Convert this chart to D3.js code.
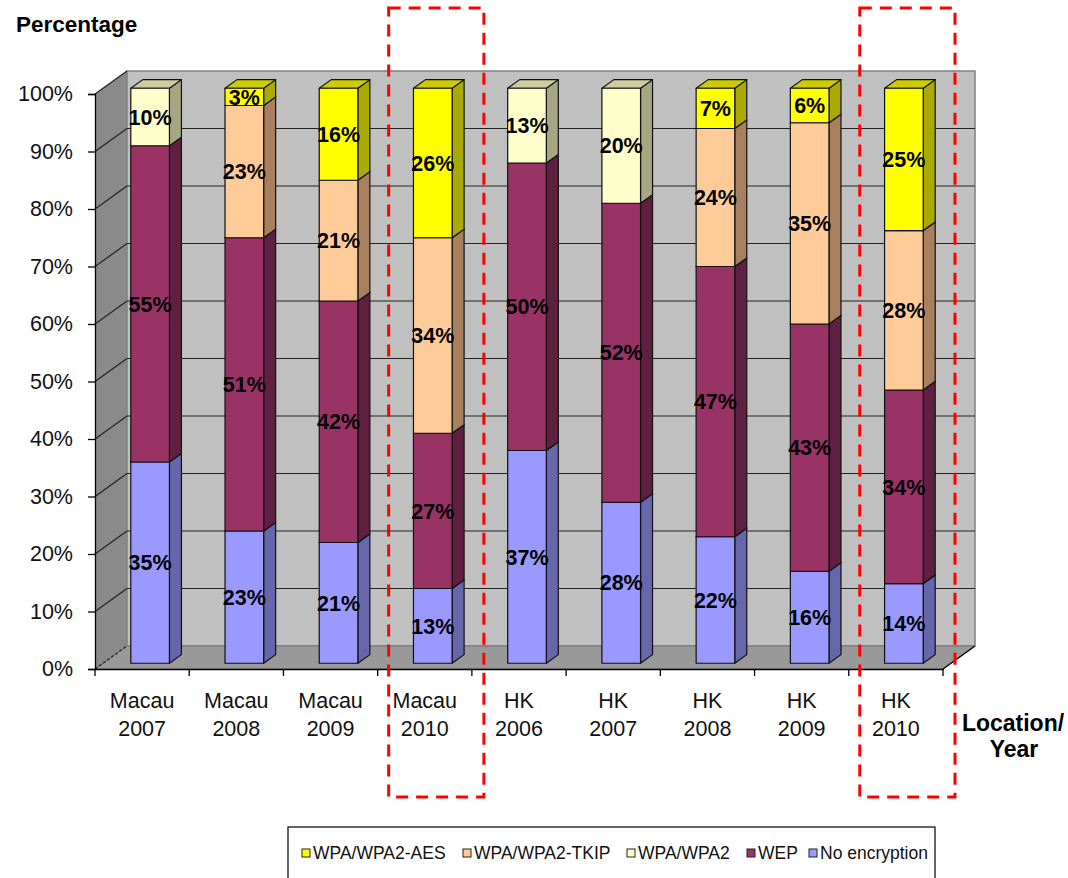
<!DOCTYPE html>
<html>
<head>
<meta charset="utf-8">
<script src="https://cdn.jsdelivr.net/npm/d3@7/dist/d3.min.js"></script>
<style>
  body { margin: 0; background: #fff; }
  svg { font-family: Arial, "Liberation Sans", sans-serif; }
</style>
</head>
<body>
<script>
// categories (location / year)
const categories = ['Macau 2007', 'Macau 2008', 'Macau 2009', 'Macau 2010', 'HK 2006', 'HK 2007', 'HK 2008', 'HK 2009', 'HK 2010'];
// series, bottom to top of the stack
const seriesNames = ['No encryption', 'WEP', 'WPA/WPA2', 'WPA/WPA2-TKIP', 'WPA/WPA2-AES'];
const noEncryption = [35, 23, 21, 13, 37, 28, 22, 16, 14];
const wep = [55, 51, 42, 27, 50, 52, 47, 43, 34];
const wpa = [10, 0, 0, 0, 13, 20, 0, 0, 0];
const wpaTkip = [0, 23, 21, 34, 0, 0, 24, 35, 28];
const wpaAes = [0, 3, 16, 26, 0, 0, 7, 6, 25];
const yTicks = [0, 10, 20, 30, 40, 50, 60, 70, 80, 90, 100];
const legendOrder = ['WPA/WPA2-AES', 'WPA/WPA2-TKIP', 'WPA/WPA2', 'WEP', 'No encryption'];
const highlighted = ['Macau 2010', 'HK 2010'];

const seriesValues = [noEncryption, wep, wpa, wpaTkip, wpaAes];
const rows = categories.map((c, i) => {
  const r = { cat: c };
  seriesNames.forEach((s, j) => { r[s] = seriesValues[j][i]; });
  return r;
});

const colors = {
  'No encryption': { front: '#9999ff', side: '#6666aa', top: '#7a7acc' },
  'WEP': { front: '#993366', side: '#5e1f40', top: '#7a2952' },
  'WPA/WPA2': { front: '#ffffcc', side: '#a6a682', top: '#cccc9f' },
  'WPA/WPA2-TKIP': { front: '#ffcc99', side: '#a88060', top: '#cca37a' },
  'WPA/WPA2-AES': { front: '#ffff00', side: '#aaaa00', top: '#cccc00' }
};

const W = 1068, H = 878;
const x0 = 95, x1 = 943, yBottom = 669, yTop = 94;
const DX = 32, DY = 23;          // full depth of the plot box
const d0 = 0.25, d1 = 0.625;     // bar depth (front / back)

const svg = d3.select('body').append('svg').attr('width', W).attr('height', H);

const x = d3.scaleBand().domain(categories).range([x0, x1]).padding(0);
const y = d3.scaleLinear().domain([0, 1]).range([yBottom, yTop]);
const yPct = d3.scaleLinear().domain([0, 100]).range([yBottom, yTop]);

// walls
svg.append('polygon')
  .attr('points', [[x0, yTop], [x0 + DX, yTop - DY], [x0 + DX, yBottom - DY], [x0, yBottom]].join(' '))
  .attr('fill', '#8a8a8a');
svg.append('rect')
  .attr('x', x0 + DX).attr('y', yTop - DY)
  .attr('width', x1 - x0).attr('height', yBottom - yTop)
  .attr('fill', '#c0c0c0').attr('stroke', '#808080').attr('stroke-width', 1.5);
svg.append('polygon')
  .attr('points', [[x0, yBottom], [x0 + DX, yBottom - DY], [x1 + DX, yBottom - DY], [x1, yBottom]].join(' '))
  .attr('fill', '#999999').attr('stroke', '#777').attr('stroke-width', 1);

// gridlines on back and left walls
const grid = svg.append('g').attr('stroke', '#222').attr('stroke-width', 1.2);
yTicks.forEach(t => {
  const yy = yPct(t);
  if (t > 0 && t < 100) {
    grid.append('line')
      .attr('x1', x0 + DX).attr('x2', x1 + DX)
      .attr('y1', yy - DY).attr('y2', yy - DY);
  }
  grid.append('line')
    .attr('x1', x0).attr('y1', yy)
    .attr('x2', x0 + DX).attr('y2', yy - DY)
    .attr('stroke-dasharray', t === 0 ? '3,2' : null);
});

// axes
const yAxis = svg.append('g')
  .attr('transform', `translate(${x0},0)`)
  .call(d3.axisLeft(yPct).tickValues(yTicks).tickSize(7).tickFormat(d => d + '%'));
yAxis.select('.domain').attr('stroke', '#000').attr('stroke-width', 1.3);
yAxis.selectAll('.tick line').attr('stroke', '#000').attr('stroke-width', 1.3);
yAxis.selectAll('.tick text')
  .attr('x', -22)
  .style('font-family', 'Arial, "Liberation Sans", sans-serif')
  .style('font-size', '21.5px').attr('fill', '#111');

const xAxis = svg.append('g')
  .attr('transform', `translate(0,${yBottom})`)
  .call(d3.axisBottom(x).tickSize(0).tickFormat(''));
xAxis.select('.domain').attr('stroke', '#000').attr('stroke-width', 1.3);
xAxis.selectAll('.tick').remove();
const bounds = categories.map(c => x(c)).concat([x1]);
bounds.forEach(b => {
  svg.append('line').attr('x1', b).attr('x2', b)
    .attr('y1', yBottom).attr('y2', yBottom + 7)
    .attr('stroke', '#000').attr('stroke-width', 1.3);
});
svg.append('line')
  .attr('x1', x1).attr('y1', yBottom).attr('x2', x1 + DX).attr('y2', yBottom - DY)
  .attr('stroke', '#000').attr('stroke-width', 1.3);

const catLabels = svg.append('g')
  .selectAll('text').data(categories).enter().append('text')
  .attr('text-anchor', 'middle')
  .attr('font-size', 21.5).attr('fill', '#111')
  .attr('x', d => x(d) + x.bandwidth() / 2);
catLabels.append('tspan').attr('x', d => x(d) + x.bandwidth() / 2).attr('y', 708).text(d => d.split(' ')[0]);
catLabels.append('tspan').attr('x', d => x(d) + x.bandwidth() / 2).attr('y', 736).text(d => d.split(' ')[1]);

// stacked 3D bars (100% stacked)
const stack = d3.stack().keys(seriesNames).offset(d3.stackOffsetExpand);
const stacked = stack(rows);
const barW = x.bandwidth() * 0.41;
const fx = DX * d0, fy = DY * d0;
const bx = DX * (d1 - d0), by = DY * (d1 - d0);

const bars = svg.append('g');
const labels = svg.append('g');
categories.forEach((cat, i) => {
  const left = x(cat) + x.bandwidth() / 2 - barW / 2 + fx;
  const right = left + barW;
  stacked.forEach(layer => {
    const seg = layer[i];
    if (seg[1] - seg[0] <= 0) return;
    const c = colors[layer.key];
    const yb = y(seg[0]) - fy, yt = y(seg[1]) - fy;
    const g = bars.append('g').attr('stroke', '#111').attr('stroke-width', 1.2).attr('stroke-linejoin', 'round');
    g.append('polygon')
      .attr('points', [[right, yt], [right + bx, yt - by], [right + bx, yb - by], [right, yb]].join(' '))
      .attr('fill', c.side);
    g.append('polygon')
      .attr('points', [[left, yt], [left + bx, yt - by], [right + bx, yt - by], [right, yt]].join(' '))
      .attr('fill', c.top);
    g.append('rect')
      .attr('x', left).attr('y', yt).attr('width', barW).attr('height', yb - yt)
      .attr('fill', c.front);
    labels.append('text')
      .attr('x', (left + right) / 2)
      .attr('y', (yt + yb) / 2)
      .attr('dy', '0.36em')
      .attr('text-anchor', 'middle')
      .attr('font-size', 21.5).attr('font-weight', 'bold').attr('fill', '#000')
      .text(rows[i][layer.key] + '%');
  });
});

// axis titles
svg.append('text').attr('x', 16).attr('y', 32)
  .attr('font-size', 22.5).attr('font-weight', 'bold').text('Percentage');
svg.append('text').attr('x', 1013).attr('y', 731).attr('text-anchor', 'middle')
  .attr('font-size', 23).attr('font-weight', 'bold').text('Location/');
svg.append('text').attr('x', 1014).attr('y', 757).attr('text-anchor', 'middle')
  .attr('font-size', 23).attr('font-weight', 'bold').text('Year');

// red dashed highlight boxes
highlighted.forEach(cat => {
  svg.append('rect')
    .attr('x', x(cat) + 11).attr('y', 8)
    .attr('width', x.bandwidth() + 1).attr('height', 789)
    .attr('fill', 'none').attr('stroke', '#ff0000').attr('stroke-width', 3)
    .attr('stroke-dasharray', '12,8');
});

// legend
const legendX = [302, 463, 627, 747, 809];
svg.append('rect').attr('x', 288).attr('y', 827).attr('width', 647).attr('height', 70)
  .attr('fill', '#fff').attr('stroke', '#000').attr('stroke-width', 1.2);
legendOrder.forEach((name, i) => {
  const lx = legendX[i];
  svg.append('rect').attr('x', lx).attr('y', 849).attr('width', 8).attr('height', 8)
    .attr('fill', colors[name].front).attr('stroke', '#222').attr('stroke-width', 1);
  svg.append('text').attr('x', lx + 11).attr('y', 859)
    .attr('font-size', 17.5).attr('fill', '#111').text(name);
});
</script>
</body>
</html>
